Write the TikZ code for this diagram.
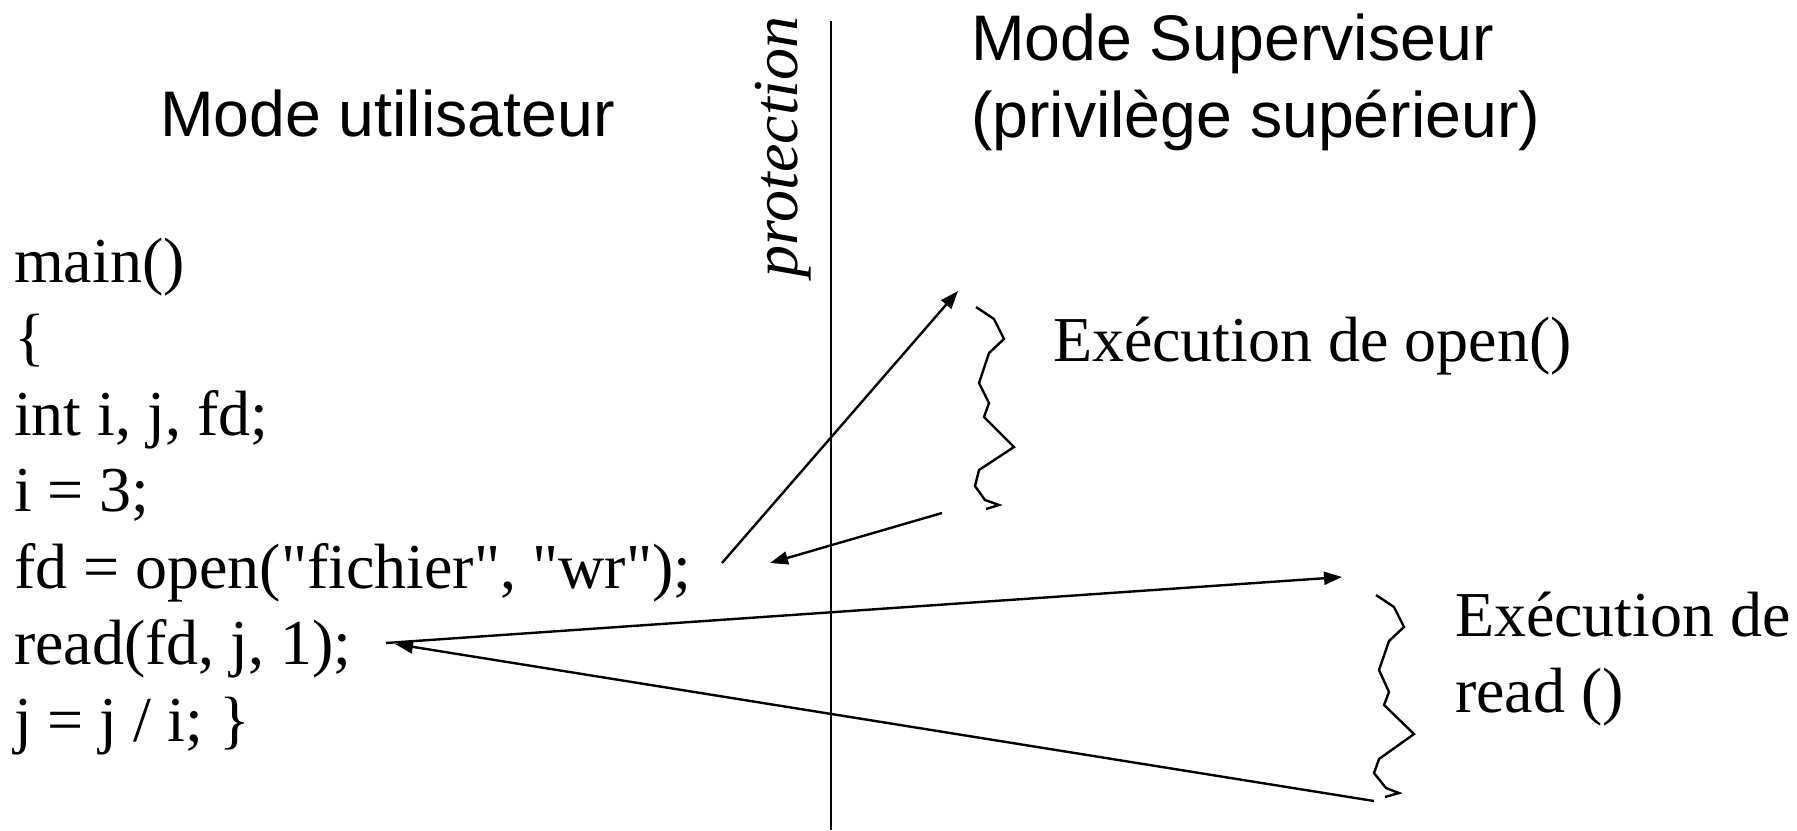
\documentclass[tikz,border=0pt]{standalone}
\usepackage{fontspec}
\setmainfont{Liberation Serif}[Ligatures=TeXOff]
\newfontfamily\headfont{Liberation Sans}
\usetikzlibrary{arrows.meta}
\begin{document}
\begin{tikzpicture}[x=0.5pt,y=-0.5pt,
  txt/.style={anchor=base west,inner sep=0pt,outer sep=0pt,font=\fontsize{32}{38}\selectfont},
  head/.style={anchor=base west,inner sep=0pt,outer sep=0pt,font=\headfont\fontsize{32.2}{38}\selectfont},
  arr/.style={line width=1.2pt,-{Triangle[length=9pt,width=6.5pt]}},
  squig/.style={line width=1.2pt,line join=miter}]
\useasboundingbox (0,0) rectangle (1797,830);
% headings
\node[head] (mu) at (160,136) {Mode utilisateur};
\node[head] (ms) at (971,60) {Mode Superviseur};
\node[head] (ps) at (971,137) {(privilège supérieur)};
\node[txt,rotate=90,font=\itshape\fontsize{32}{38}\selectfont] (prot) at (797,277) {protection};
% separation line
\coordinate (ltop) at (831,21);
\coordinate (lbot) at (831,830);
\draw[line width=1.25pt] (ltop) -- (lbot);
% code
\node[txt] (l1) at (14,282) {main()};
\node[txt] (l2) at (14,358.5) {\{};
\node[txt] (l3) at (14,435) {int i, j, fd;};
\node[txt] (l4) at (14,511.5) {i = 3;};
\node[txt] (l5) at (14,588) {fd = open("fichier", "wr");};
\node[txt] (l6) at (14,664.5) {read(fd, j, 1);};
\node[txt] (l7) at (14,741) {j = j / i; \}};
% right texts
\node[txt] (eo) at (1053,361) {Exécution de open()};
\node[txt] (er1) at (1455,636) {Exécution de};
\node[txt] (er2) at (1455,712.5) {read ()};
% connector end points
\coordinate (a1s) at (722,563);
\coordinate (a1e) at (958,291);
\coordinate (a2s) at (942,513);
\coordinate (a2e) at (770,563);
\coordinate (a3s) at (386,643);
\coordinate (a3e) at (1342,577);
\coordinate (a4s) at (1374,801);
\coordinate (a4e) at (395,644);
\draw[arr] (a1s) -- (a1e);
\draw[arr] (a2s) -- (a2e);
\draw[arr] (a3s) -- (a3e);
\draw[arr] (a4s) -- (a4e);
% squiggles
\draw[squig] (976,307) -- (994,319) -- (1004,339) -- (989,353) -- (979,383) -- (989,403) -- (984,417) -- (1014,447) -- (979,470) -- (975,486) -- (985,500) -- (999,505) -- (986,509);
\draw[squig] (1376,595) -- (1394,607) -- (1404,627) -- (1389,641) -- (1379,670) -- (1389,692) -- (1384,705) -- (1414,734) -- (1379,759) -- (1374,773) -- (1386,788) -- (1399,793) -- (1385,797);
\end{tikzpicture}
\end{document}
